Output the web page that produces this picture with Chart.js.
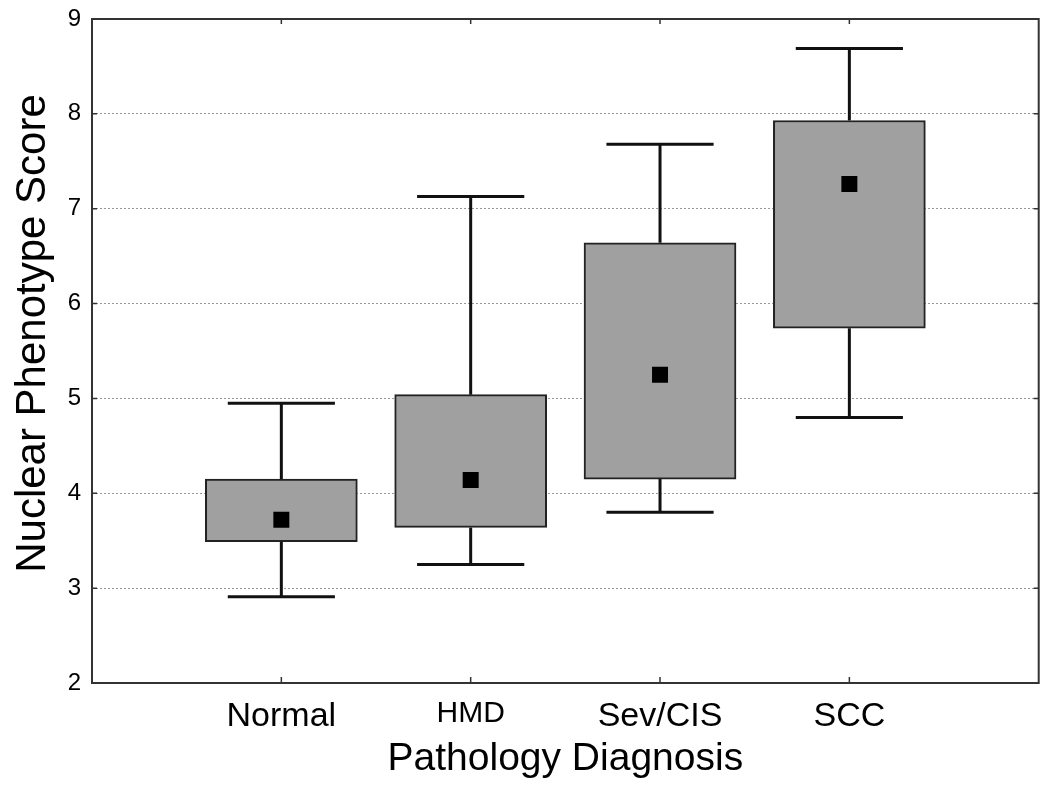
<!DOCTYPE html>
<html lang="en">
<head>
  <meta charset="UTF-8">
  <title>Nuclear Phenotype Score by Pathology Diagnosis</title>
  <script src="https://cdn.jsdelivr.net/npm/chart.js"></script>
  <style>
    html, body {
      margin: 0;
      padding: 0;
      background: #fff;
    }
    #chart-container {
      position: relative;
      width: 1050px;
      height: 788px;
    }
  </style>
</head>
<body>
  <div id="chart-container">
    <canvas id="myChart"></canvas>
  </div>

  <script>
    // values
    const categories = ['Normal', 'HMD', 'Sev/CIS', 'SCC'];
    const whiskerLow = [2.91, 3.25, 3.80, 4.80];
    const boxLow = [3.49, 3.64, 4.15, 5.74];
    const means = [3.72, 4.14, 5.25, 7.26];
    const boxHigh = [4.15, 5.04, 6.64, 7.93];
    const whiskerHigh = [4.95, 7.13, 7.68, 8.69];
    const yTicks = [2, 3, 4, 5, 6, 7, 8, 9];

    const fontFamily = "'Liberation Sans', Arial, sans-serif";
    const ink = '#000';

    let boxData = categories.map((c, i) => ({ x: i + 1, y: [boxLow[i], boxHigh[i]] }));
    let meanData = categories.map((c, i) => ({ x: i + 1, y: means[i] }));

    // whiskers, caps and the frame with its inner tick marks
    const boxPlotExtras = {
      id: 'boxPlotExtras',
      beforeDatasetsDraw(chart) {
        const { ctx, scales: { x, y } } = chart;
        const capHalf = 0.283;
        ctx.save();
        ctx.strokeStyle = '#111';
        ctx.lineWidth = 3;
        ctx.lineCap = 'butt';
        categories.forEach((c, i) => {
          const cx = x.getPixelForValue(i + 1);
          ctx.beginPath();
          ctx.moveTo(cx, y.getPixelForValue(whiskerLow[i]));
          ctx.lineTo(cx, y.getPixelForValue(boxLow[i]));
          ctx.moveTo(cx, y.getPixelForValue(boxHigh[i]));
          ctx.lineTo(cx, y.getPixelForValue(whiskerHigh[i]));
          ctx.stroke();
          [whiskerLow[i], whiskerHigh[i]].forEach(v => {
            const py = y.getPixelForValue(v);
            ctx.beginPath();
            ctx.moveTo(x.getPixelForValue(i + 1 - capHalf), py);
            ctx.lineTo(x.getPixelForValue(i + 1 + capHalf), py);
            ctx.stroke();
          });
        });
        ctx.restore();
      },
      afterDraw(chart) {
        const { ctx, chartArea: a, scales: { x, y } } = chart;
        ctx.save();
        ctx.strokeStyle = '#333';
        ctx.lineWidth = 2;
        ctx.strokeRect(a.left, a.top, a.right - a.left, a.bottom - a.top);
        ctx.lineWidth = 1.5;
        ctx.beginPath();
        categories.forEach((c, i) => {
          const px = x.getPixelForValue(i + 1);
          ctx.moveTo(px, a.bottom);
          ctx.lineTo(px, a.bottom - 6);
          ctx.moveTo(px, a.top);
          ctx.lineTo(px, a.top + 5);
        });
        yTicks.forEach(v => {
          const py = y.getPixelForValue(v);
          ctx.moveTo(a.left, py);
          ctx.lineTo(a.left + 5, py);
          ctx.moveTo(a.right, py);
          ctx.lineTo(a.right - 5, py);
        });
        ctx.stroke();
        ctx.restore();
      }
    };

    let chartConfig = {
      data: {
        datasets: [
          {
            type: 'scatter',
            label: 'Mean',
            data: meanData,
            pointStyle: 'rect',
            pointRadius: 11.3,
            pointHoverRadius: 11.3,
            backgroundColor: '#000',
            borderWidth: 0,
            order: 0
          },
          {
            type: 'bar',
            label: 'Box',
            data: boxData,
            backgroundColor: '#a0a0a0',
            borderColor: '#222',
            borderWidth: 2,
            borderSkipped: false,
            barThickness: 152,
            order: 1
          }
        ]
      },
      options: {
        responsive: true,
        maintainAspectRatio: false,
        animation: false,
        layout: {
          padding: { top: 19, right: 9, left: 0, bottom: 0 }
        },
        plugins: {
          legend: { display: false },
          tooltip: { enabled: false }
        },
        scales: {
          x: {
            type: 'linear',
            min: 0,
            max: 5,
            offset: false,
            grid: { display: false, offset: false, drawTicks: false },
            border: { display: false },
            afterBuildTicks: scale => {
              scale.ticks = categories.map((c, i) => ({ value: i + 1 }));
            },
            afterFit: scale => {
              scale.height = 105;
              scale.paddingLeft = 0;
              scale.paddingRight = 0;
            },
            ticks: {
              padding: 13,
              color: ink,
              autoSkip: false,
              maxRotation: 0,
              font: ctx => ({
                family: fontFamily,
                size: ctx.index === 1 ? 30 : 34
              }),
              callback: value => categories[value - 1]
            },
            title: {
              display: true,
              text: 'Pathology Diagnosis',
              color: ink,
              font: { family: fontFamily, size: 39 },
              padding: { top: 0, bottom: 5 }
            }
          },
          y: {
            min: 2,
            max: 9,
            grid: {
              drawTicks: false,
              color: ctx => (ctx.tick && (ctx.tick.value === 2 || ctx.tick.value === 9)) ? 'rgba(0,0,0,0)' : '#999'
            },
            border: { display: false, dash: [2, 2] },
            afterBuildTicks: scale => {
              scale.ticks = yTicks.map(v => ({ value: v }));
            },
            afterFit: scale => {
              scale.width = 92;
              scale.paddingTop = 0;
              scale.paddingBottom = 0;
            },
            ticks: {
              padding: 11,
              color: ink,
              font: { family: fontFamily, size: 24 }
            },
            title: {
              display: true,
              text: '   Nuclear Phenotype Score',
              color: ink,
              font: { family: fontFamily, size: 42 },
              padding: { top: 8, bottom: 0 }
            }
          }
        }
      },
      plugins: [boxPlotExtras]
    };

    let ctx = document.getElementById('myChart').getContext('2d');
    let myChart = new Chart(ctx, chartConfig);
  </script>
</body>
</html>
